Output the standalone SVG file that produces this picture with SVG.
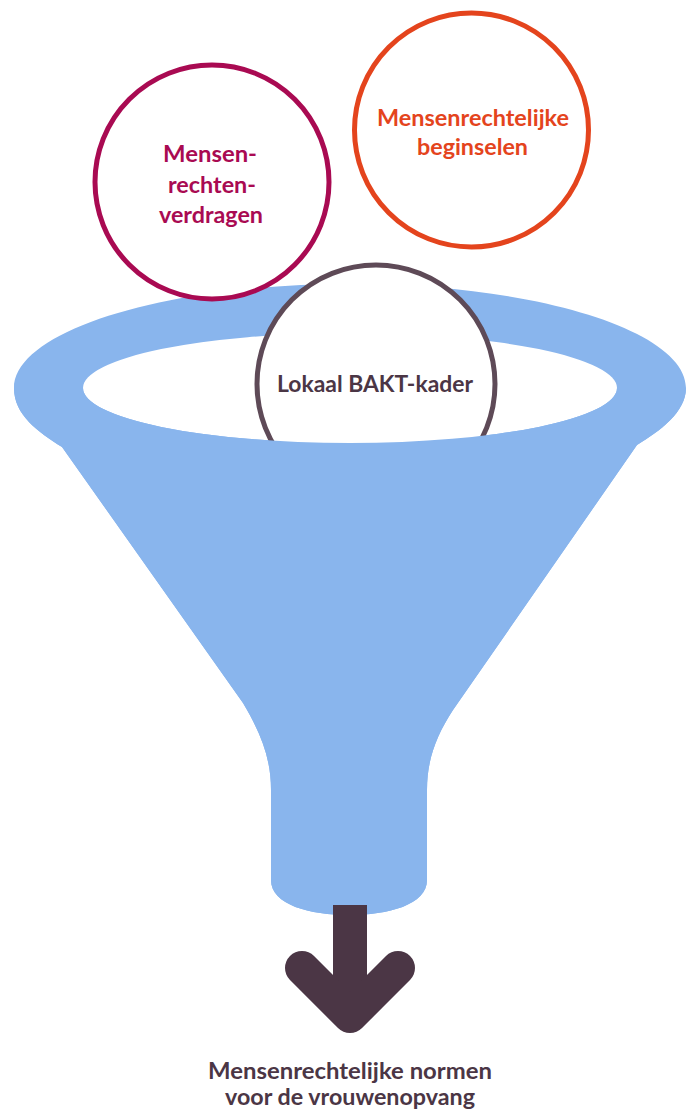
<svg xmlns="http://www.w3.org/2000/svg" width="690" height="1115" viewBox="0 0 690 1115">
  <style>
    .lbl { font-family: Lato, "Open Sans", "Noto Sans", sans-serif; font-weight: 700; font-size: 23px; text-anchor: middle; }
    .small { font-size: 22px; }
    .ring { fill: #ffffff; stroke-width: 5; }
    .funnel { fill: #89b5ed; }
  </style>
  <defs>
    <path id="silhouette" d="M 14,388 C 14,330.6 164.4,284 350,284 C 535.6,284 686,330.6 686,388 C 686,412 660,431 637,445 L 453,710 C 436,736 427,760 427,790 L 427,880 C 427,905 388,915 349,915 C 310,915 271,905 271,880 L 271,790 C 271,760 262,735 243,703 L 62,447 C 38,432 14,415 14,388 Z"/>
    <clipPath id="frontClip">
      <path d="M 0,388 L 83,388 A 267,55 0 0 0 617,388 L 690,388 L 690,1115 L 0,1115 Z"/>
    </clipPath>
  </defs>

  <g id="funnel-back">
    <use href="#silhouette" class="funnel"/>
    <ellipse cx="350" cy="388" rx="267" ry="55" fill="#ffffff"/>
  </g>

  <g id="node-verdragen">
    <circle class="ring" cx="212" cy="182" r="117" stroke="#a90a52"/>
    <text class="lbl" fill="#a90a52" x="210" y="162" textLength="94" lengthAdjust="spacingAndGlyphs">Mensen-</text>
    <text class="lbl" fill="#a90a52" x="212" y="193" textLength="88" lengthAdjust="spacingAndGlyphs">rechten-</text>
    <text class="lbl" fill="#a90a52" x="211" y="223" textLength="104" lengthAdjust="spacingAndGlyphs">verdragen</text>
  </g>

  <g id="node-beginselen">
    <circle class="ring" cx="471.5" cy="130" r="117" stroke="#e4441d"/>
    <text class="lbl" fill="#e4441d" x="473" y="126" textLength="192" lengthAdjust="spacingAndGlyphs">Mensenrechtelijke</text>
    <text class="lbl" fill="#e4441d" x="472.5" y="155" textLength="111" lengthAdjust="spacingAndGlyphs">beginselen</text>
  </g>

  <g id="node-bakt">
    <circle class="ring" cx="376" cy="384" r="119" stroke="#5e4a57" stroke-width="4.5"/>
    <text class="lbl" fill="#4b3645" x="375" y="392" textLength="196" lengthAdjust="spacingAndGlyphs">Lokaal BAKT-kader</text>
  </g>

  <g id="funnel-front">
    <use href="#silhouette" class="funnel" clip-path="url(#frontClip)"/>
  </g>

  <g id="connectors">
    <rect x="333" y="905" width="34" height="105" fill="#4b3645"/>
    <polyline points="302,968 350,1016 398,968" fill="none" stroke="#4b3645" stroke-width="34" stroke-linecap="round" stroke-linejoin="round"/>
  </g>

  <g id="node-normen">
    <text class="lbl small" fill="#4b3645" x="350" y="1079" textLength="284" lengthAdjust="spacingAndGlyphs">Mensenrechtelijke normen</text>
    <text class="lbl small" fill="#4b3645" x="350" y="1105" textLength="250" lengthAdjust="spacingAndGlyphs">voor de vrouwenopvang</text>
  </g>
</svg>
